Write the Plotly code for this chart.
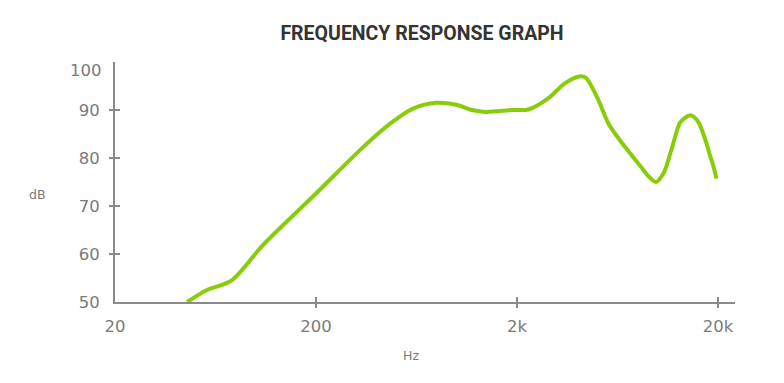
import plotly.graph_objects as go
import math

# Frequency response data (Hz, dB)
freq_hz = [45.7, 56.7, 76.2, 108.6, 200, 338, 469, 608, 791, 1000, 1194, 1400, 1890, 2280,
           2858, 3444, 4074, 4390, 5004, 5700, 6500, 8300, 8930, 9820, 10790, 11840, 13010,
           14560, 15970, 17540, 18220, 18920, 19650]
level_db = [50.0, 52.4, 54.5, 61.8, 72.6, 82.0, 87.2, 90.3, 91.5, 91.1, 90.0, 89.6, 90.0, 90.1,
            92.4, 95.5, 97.0, 96.75, 92.7, 87.2, 83.7, 78.1, 76.4, 75.0, 77.1, 82.3, 87.5,
            88.9, 87.5, 83.0, 80.6, 78.5, 75.7]

x_tick_vals = [20, 200, 2000, 20000]
x_tick_text = ["20", "200", "2k", "20k"]
x_mark_vals = [200, 2000, 20000]
y_tick_vals = [50, 60, 70, 80, 90]
y_top_label = "100"
y_mark_vals = [60, 70, 80, 90]

AX = "#8a8a8a"
TXT = "#7a7a7a"
GREEN = "#88cc0a"

W, H = 784, 383
OFF = 8  # page body margin
L, R, T, B = 115 - OFF, 57, 62 - OFF, 89
plot_w = 620
plot_h = 240
x_range = [math.log10(20), math.log10(20) + plot_w / 201.0]
y_range = [50, 100]

fig = go.Figure()
fig.add_trace(go.Scatter(x=freq_hz, y=level_db, mode="lines",
                         line=dict(color=GREEN, width=4, shape="spline", smoothing=0.8),
                         hoverinfo="skip", showlegend=False))
for xa, ya in [("x2", "y2"), ("x3", "y3")]:
    fig.add_trace(go.Scatter(x=[], y=[], xaxis=xa, yaxis=ya, showlegend=False, hoverinfo="skip"))

tickfont = dict(family="DejaVu Sans", size=16.5, color=TXT)

fig.update_layout(
    width=W, height=H,
    margin=dict(l=L, r=R, t=T, b=B),
    paper_bgcolor="white", plot_bgcolor="white",
    title=dict(text="<b>FREQUENCY RESPONSE GRAPH</b>", x=(422 - OFF) / W, xanchor="center",
               y=1 - (33 - OFF) / H, yanchor="middle",
               font=dict(family="Roboto", size=19.5, color="#333333")),
    xaxis=dict(type="log", range=x_range, tickvals=x_tick_vals, ticktext=x_tick_text,
               ticks="", showgrid=False, zeroline=False, showline=True, linecolor=AX,
               linewidth=2, tickfont=tickfont, ticklabelstandoff=8, fixedrange=True),
    yaxis=dict(range=y_range, tickvals=y_tick_vals, ticks="", showgrid=False, zeroline=False,
               showline=True, linecolor=AX, linewidth=2, tickfont=tickfont,
               ticklabelstandoff=10, fixedrange=True),
    xaxis2=dict(type="log", range=x_range, overlaying="x", anchor="y2", tickvals=x_mark_vals,
                ticks="outside", ticklen=5, tickwidth=2, tickcolor=AX, showticklabels=False,
                showgrid=False, zeroline=False, showline=False),
    yaxis2=dict(range=y_range, overlaying="y", anchor="x2", side="left", tickvals=y_mark_vals,
                ticks="outside", ticklen=5, tickwidth=2, tickcolor=AX, showticklabels=False,
                showgrid=False, zeroline=False, showline=False),
    xaxis3=dict(type="log", range=x_range, overlaying="x", anchor="y3", tickvals=x_mark_vals,
                ticks="inside", ticklen=5, tickwidth=2, tickcolor=AX, showticklabels=False,
                showgrid=False, zeroline=False, showline=False),
    yaxis3=dict(range=y_range, overlaying="y", anchor="x3", side="left", tickvals=y_mark_vals,
                ticks="inside", ticklen=5, tickwidth=2, tickcolor=AX, showticklabels=False,
                showgrid=False, zeroline=False, showline=False),
    annotations=[
        dict(text=y_top_label, xref="paper", yref="paper", x=(104 - 115) / plot_w,
             y=(302 - 70) / plot_h, xanchor="right", yanchor="middle", showarrow=False,
             font=tickfont),
        dict(text="dB", xref="paper", yref="paper", x=(37 - 115) / plot_w, y=(302 - 194) / plot_h,
             xanchor="center", yanchor="middle", showarrow=False,
             font=dict(family="DejaVu Sans", size=12.5, color=TXT)),
        dict(text="Hz", xref="paper", yref="paper", x=(411 - 115) / plot_w, y=(302 - 355) / plot_h,
             xanchor="center", yanchor="middle", showarrow=False,
             font=dict(family="DejaVu Sans", size=12.5, color=TXT)),
    ],
)

fig.write_html("out.html")
